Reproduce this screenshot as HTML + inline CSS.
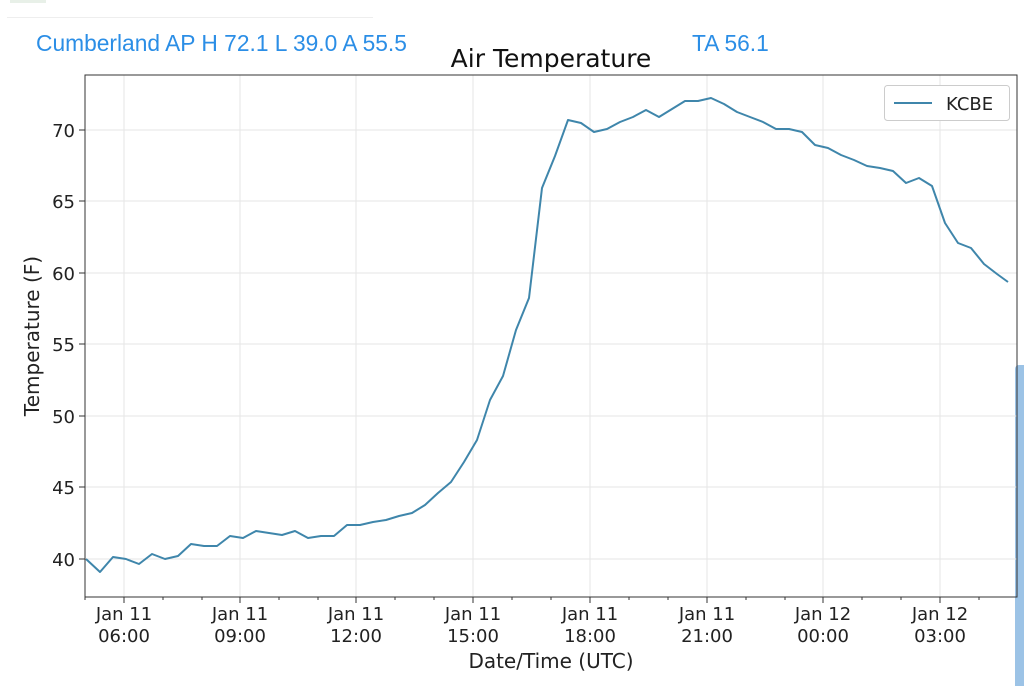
<!DOCTYPE html>
<html><head><style>
body{margin:0;width:1024px;height:686px;background:#fff;overflow:hidden;position:relative;font-family:"DejaVu Sans","Liberation Sans",sans-serif}
.top{position:absolute;top:30px;color:#2b8ee6;font-size:23px;font-family:"Liberation Sans",sans-serif;transform:scaleX(0.99);transform-origin:left;white-space:nowrap}
</style></head><body>
<div style="position:absolute;left:7px;top:17px;width:366px;height:1px;background:#eee"></div>
<div style="position:absolute;left:10px;top:0;width:36px;height:3px;background:#e8f0e8"></div>
<div class="top" style="left:36px">Cumberland AP H 72.1 L 39.0 A 55.5</div>
<div class="top" style="left:692px">TA 56.1</div>
<div style="position:absolute;left:1015px;top:365px;width:9px;height:321px;background:#9cc3e6;border-radius:4px 0 0 0"></div>
<svg width="1024" height="686" style="position:absolute;left:0;top:0">
<text x="551" y="67" font-size="25" text-anchor="middle" fill="#111">Air Temperature</text>
<g stroke="#e6e6e6" stroke-width="1">
<line x1="124" y1="75" x2="124" y2="597"/><line x1="240" y1="75" x2="240" y2="597"/><line x1="356" y1="75" x2="356" y2="597"/><line x1="473" y1="75" x2="473" y2="597"/><line x1="590" y1="75" x2="590" y2="597"/><line x1="707" y1="75" x2="707" y2="597"/><line x1="823" y1="75" x2="823" y2="597"/><line x1="940" y1="75" x2="940" y2="597"/>
<line x1="85" y1="559" x2="1017" y2="559"/><line x1="85" y1="487" x2="1017" y2="487"/><line x1="85" y1="416" x2="1017" y2="416"/><line x1="85" y1="344" x2="1017" y2="344"/><line x1="85" y1="273" x2="1017" y2="273"/><line x1="85" y1="201" x2="1017" y2="201"/><line x1="85" y1="130" x2="1017" y2="130"/>
</g>
<rect x="85" y="75" width="932" height="522" fill="none" stroke="#333" stroke-width="1"/>
<g stroke="#333" stroke-width="1">
<line x1="124" y1="597" x2="124" y2="603"/><line x1="240" y1="597" x2="240" y2="603"/><line x1="356" y1="597" x2="356" y2="603"/><line x1="473" y1="597" x2="473" y2="603"/><line x1="590" y1="597" x2="590" y2="603"/><line x1="707" y1="597" x2="707" y2="603"/><line x1="823" y1="597" x2="823" y2="603"/><line x1="940" y1="597" x2="940" y2="603"/>
<line x1="79" y1="559" x2="85" y2="559"/><line x1="79" y1="487" x2="85" y2="487"/><line x1="79" y1="416" x2="85" y2="416"/><line x1="79" y1="344" x2="85" y2="344"/><line x1="79" y1="273" x2="85" y2="273"/><line x1="79" y1="201" x2="85" y2="201"/><line x1="79" y1="130" x2="85" y2="130"/>
</g>
<g stroke="#333" stroke-width="1">
<line x1="85" y1="597" x2="85" y2="600"/><line x1="163" y1="597" x2="163" y2="600"/><line x1="202" y1="597" x2="202" y2="600"/><line x1="279" y1="597" x2="279" y2="600"/><line x1="318" y1="597" x2="318" y2="600"/><line x1="395" y1="597" x2="395" y2="600"/><line x1="434" y1="597" x2="434" y2="600"/><line x1="512" y1="597" x2="512" y2="600"/><line x1="551" y1="597" x2="551" y2="600"/><line x1="629" y1="597" x2="629" y2="600"/><line x1="668" y1="597" x2="668" y2="600"/><line x1="746" y1="597" x2="746" y2="600"/><line x1="785" y1="597" x2="785" y2="600"/><line x1="862" y1="597" x2="862" y2="600"/><line x1="901" y1="597" x2="901" y2="600"/><line x1="979" y1="597" x2="979" y2="600"/>
</g>
<g font-size="18" fill="#222" text-anchor="end">
<text x="75" y="566">40</text><text x="75" y="494">45</text><text x="75" y="423">50</text><text x="75" y="351">55</text><text x="75" y="280">60</text><text x="75" y="208">65</text><text x="75" y="137">70</text>
</g>
<g font-size="18" fill="#222" text-anchor="middle">
<text x="124" y="620">Jan 11</text><text x="124" y="642">06:00</text>
<text x="240" y="620">Jan 11</text><text x="240" y="642">09:00</text>
<text x="356" y="620">Jan 11</text><text x="356" y="642">12:00</text>
<text x="473" y="620">Jan 11</text><text x="473" y="642">15:00</text>
<text x="590" y="620">Jan 11</text><text x="590" y="642">18:00</text>
<text x="707" y="620">Jan 11</text><text x="707" y="642">21:00</text>
<text x="823" y="620">Jan 12</text><text x="823" y="642">00:00</text>
<text x="940" y="620">Jan 12</text><text x="940" y="642">03:00</text>
<text x="551" y="668" font-size="20">Date/Time (UTC)</text>
<text x="0" y="0" font-size="20" transform="translate(39,336) rotate(-90)">Temperature (F)</text>
</g>
<polyline fill="none" stroke="#3f86ab" stroke-width="2" stroke-linejoin="round" points="86,559 100,572 113,557 126,559 139,564 152,554 165,559 178,556 191,544 204,546 217,546 230,536 243,538 256,531 269,533 282,535 295,531 308,538 321,536 334,536 347,525 360,525 373,522 386,520 399,516 412,513 425,505 438,493 451,482 464,462 477,440 490,400 503,376 516,330 529,298 542,188 555,156 568,120 581,123 594,132 607,129 620,122 633,117 646,110 659,117 672,109 685,101 698,101 711,98 724,104 737,112 750,117 763,122 776,129 789,129 802,132 815,145 828,148 841,155 854,160 867,166 880,168 893,171 906,183 919,178 932,186 945,223 958,243 971,248 984,264 997,274 1008,282"/>
<rect x="884.5" y="85.5" width="125" height="35" rx="3" fill="#fff" stroke="#ccc"/>
<line x1="894" y1="103" x2="932" y2="103" stroke="#3f86ab" stroke-width="2"/>
<text x="946" y="110" font-size="18" fill="#222">KCBE</text>
</svg>
</body></html>
